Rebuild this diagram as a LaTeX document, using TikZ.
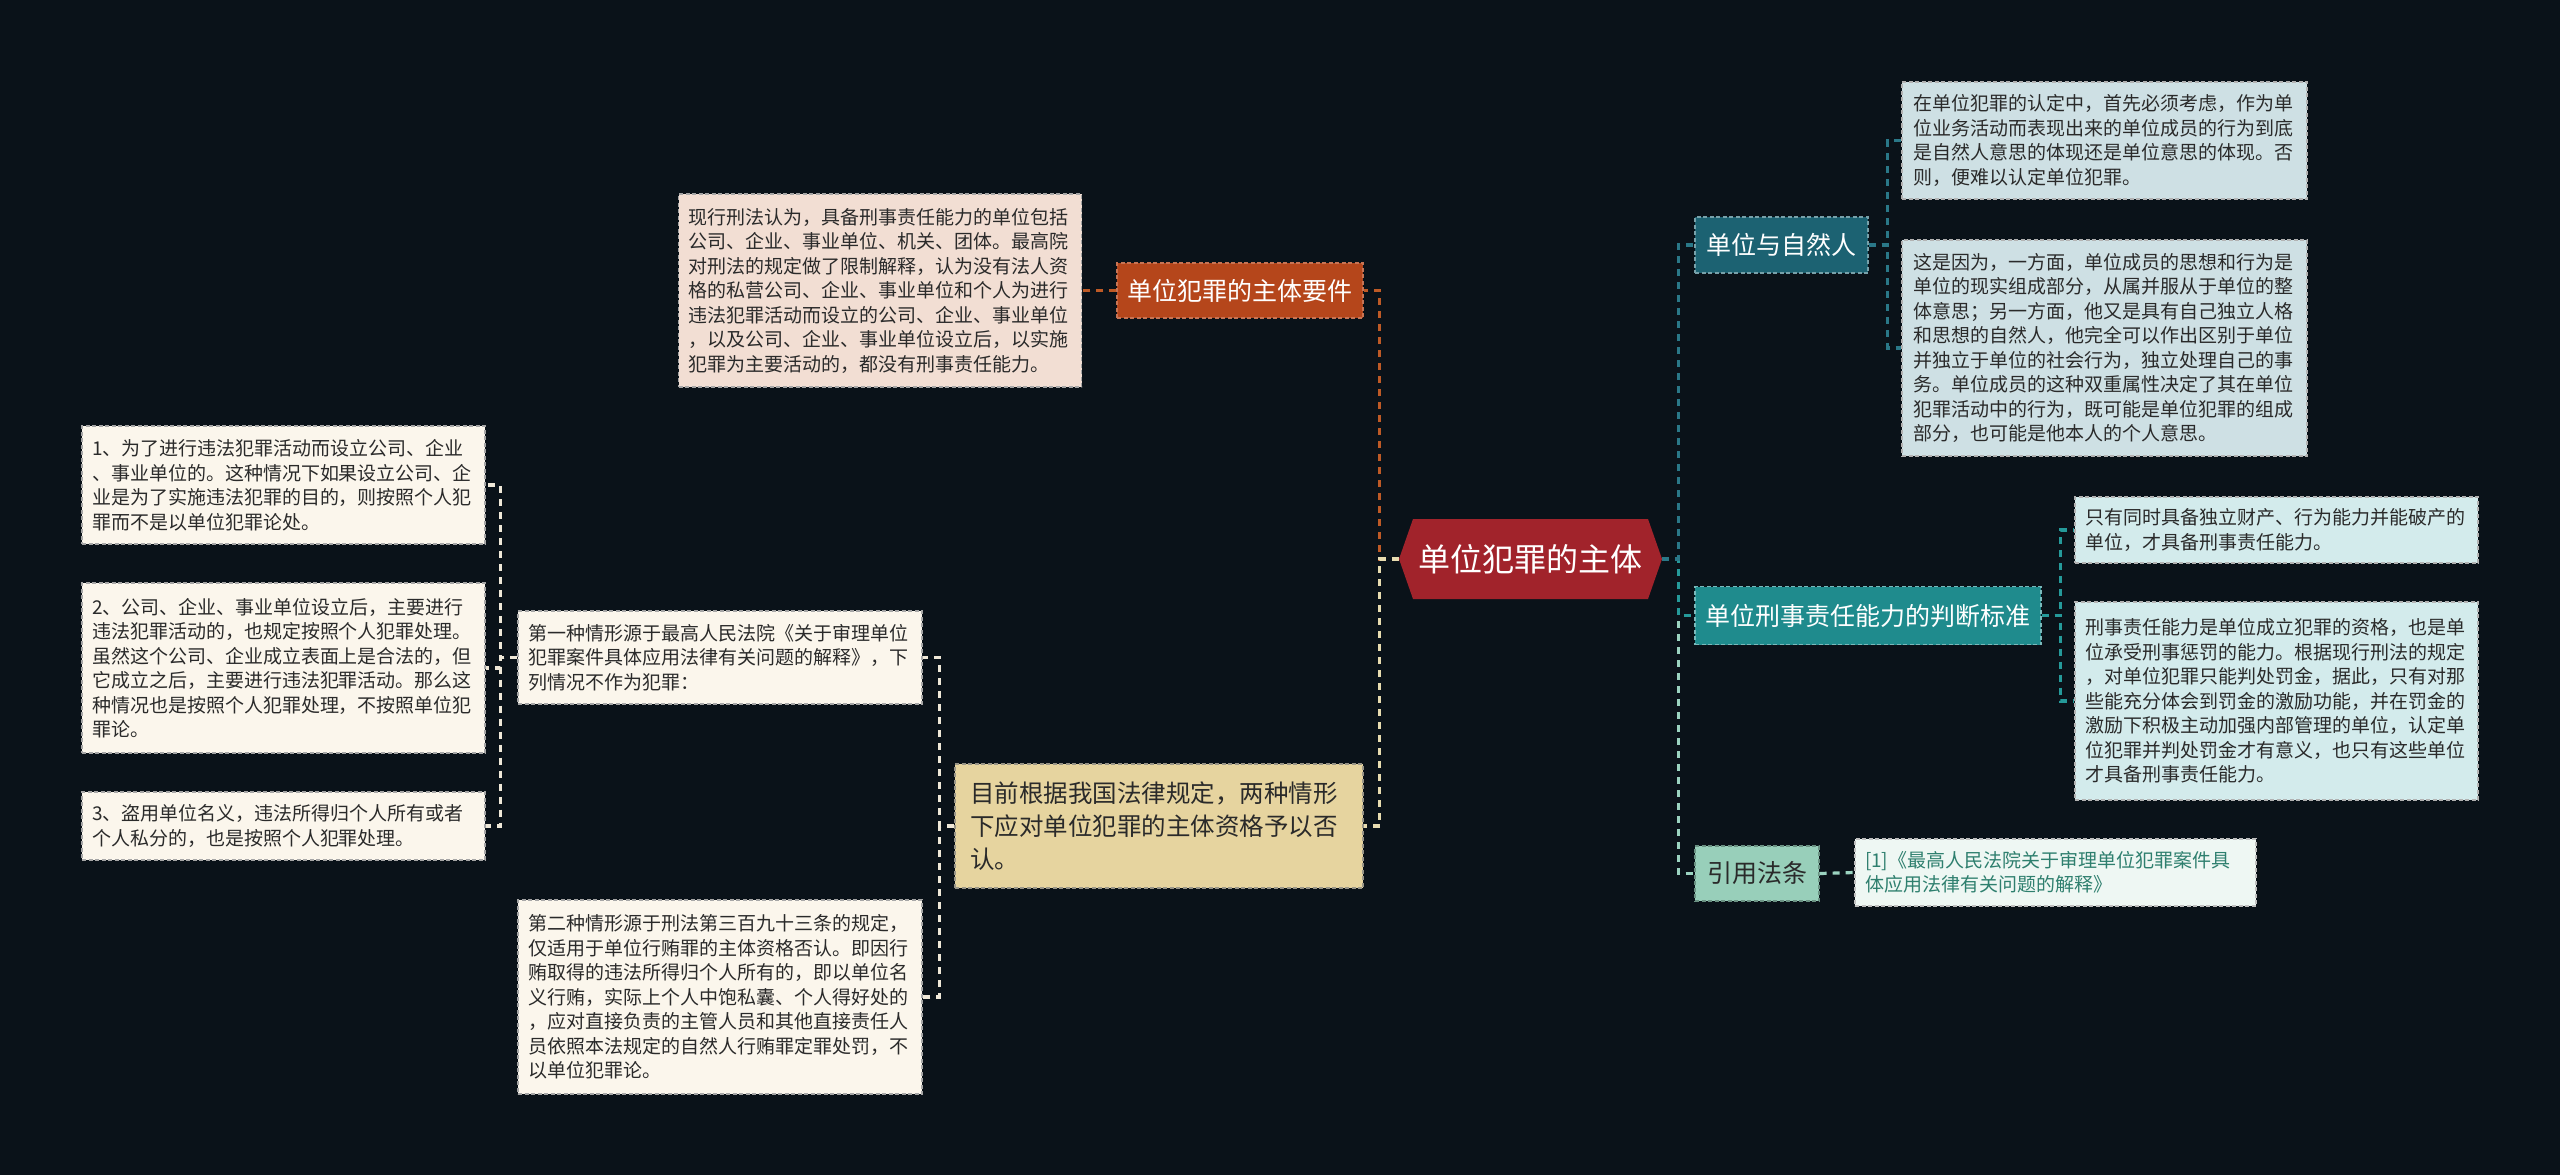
\documentclass[tikz,border=0pt]{standalone}
\usepackage{fontspec}
\newfontfamily\cjk{Noto Sans CJK SC}
\definecolor{bg}{HTML}{0A1219}
\definecolor{cred}{HTML}{A1232B}
\definecolor{corange}{HTML}{B5461B}
\definecolor{pinkbox}{HTML}{F2DED3}
\definecolor{tan}{HTML}{E6D49F}
\definecolor{cream}{HTML}{FBF6EC}
\definecolor{tealdark}{HTML}{1C6272}
\definecolor{teal}{HTML}{1F8B8D}
\definecolor{mint}{HTML}{98CFBA}
\definecolor{bluebox}{HTML}{CEE0E4}
\definecolor{cyanbox}{HTML}{D3EBEC}
\definecolor{mintbox}{HTML}{EEF7F3}
\definecolor{txt}{HTML}{2A2A2A}
\definecolor{reftxt}{HTML}{2E7F6E}
\definecolor{lnorange}{HTML}{BE5A26}
\definecolor{lncream}{HTML}{E8DCB0}
\definecolor{lnlight}{HTML}{EFE8D8}
\definecolor{lnteald}{HTML}{2A7888}
\definecolor{lnteal}{HTML}{259A9A}
\definecolor{lnmint}{HTML}{9BD3C0}
\begin{document}
\begin{tikzpicture}[x=1pt,y=-1pt,
  base/.style={rectangle, line width=1.3pt, dash pattern=on 4pt off 2.5pt},
  small/.style={base, inner xsep=10pt, inner ysep=4pt, align=left, text width=383pt, minimum width=403pt,
     font=\cjk\fontsize{19}{24.5}\selectfont, text=txt},
  creambox/.style={small, fill=cream, draw=gray!70},
  pinkb/.style={small, fill=pinkbox, draw=gray!70},
  blueb/.style={small, fill=bluebox, draw=gray!60},
  cyanb/.style={small, fill=cyanbox, draw=gray!60},
  label/.style={base, inner sep=0pt, align=center, minimum height=56pt,
     font=\cjk\fontsize{25}{28}\selectfont, text=white},
  conn/.style={line width=3.2pt, dash pattern=on 7pt off 6pt},
  cnode/.style={rectangle, inner sep=0pt, minimum width=263pt, minimum height=80pt, fill=bg,
     font=\cjk\fontsize{32}{36}\selectfont, text=white,
     path picture={\fill[cred] (path picture bounding box.west)
        -- ([xshift=14pt]path picture bounding box.north west)
        -- ([xshift=-14pt]path picture bounding box.north east)
        -- (path picture bounding box.east)
        -- ([xshift=-14pt]path picture bounding box.south east)
        -- ([xshift=14pt]path picture bounding box.south west) -- cycle;}}
]
\fill[bg] (0,0) rectangle (2560,1175);
\useasboundingbox (0,0) rectangle (2560,1175);

% centre
\node[cnode] (c) at (1530.5,559) {单位犯罪的主体};

% upper left branch
\node[label, fill=corange, draw=corange!75!white, minimum width=246pt, minimum height=55pt] (yj) at (1240,290.5) {单位犯罪的主体要件};
\node[pinkb, minimum height=193pt] (yjt) at (880,290.5) {现行刑法认为，具备刑事责任能力的单位包括\\公司、企业、事业单位、机关、团体。最高院\\对刑法的规定做了限制解释，认为没有法人资\\格的私营公司、企业、事业单位和个人为进行\\违法犯罪活动而设立的公司、企业、事业单位\\，以及公司、企业、事业单位设立后，以实施\\犯罪为主要活动的，都没有刑事责任能力。};

% lower left branch
\node[base, fill=tan, draw=gray!75!tan, inner xsep=15pt, inner ysep=4pt, align=left, text width=378pt, minimum width=408pt, minimum height=124pt,
  font=\cjk\fontsize{24.5}{33}\selectfont, text=txt] (mq) at (1159,826) {目前根据我国法律规定，两种情形\\下应对单位犯罪的主体资格予以否\\认。};
\node[creambox, minimum width=404pt, minimum height=93pt] (d1) at (720,657.5) {第一种情形源于最高人民法院《关于审理单位\\犯罪案件具体应用法律有关问题的解释》，下\\列情况不作为犯罪：};
\node[creambox, minimum width=404pt, minimum height=194pt] (d2) at (720,997) {第二种情形源于刑法第三百九十三条的规定，\\仅适用于单位行贿罪的主体资格否认。即因行\\贿取得的违法所得归个人所有的，即以单位名\\义行贿，实际上个人中饱私囊、个人得好处的\\，应对直接负责的主管人员和其他直接责任人\\员依照本法规定的自然人行贿罪定罪处罚，不\\以单位犯罪论。};
\node[creambox, minimum height=118pt] (l1) at (283.5,485) {1、为了进行违法犯罪活动而设立公司、企业\\、事业单位的。这种情况下如果设立公司、企\\业是为了实施违法犯罪的目的，则按照个人犯\\罪而不是以单位犯罪论处。};
\node[creambox, minimum height=170pt] (l2) at (283.5,668) {2、公司、企业、事业单位设立后，主要进行\\违法犯罪活动的，也规定按照个人犯罪处理。\\虽然这个公司、企业成立表面上是合法的，但\\它成立之后，主要进行违法犯罪活动。那么这\\种情况也是按照个人犯罪处理，不按照单位犯\\罪论。};
\node[creambox, minimum height=68pt] (l3) at (283.5,826) {3、盗用单位名义，违法所得归个人所有或者\\个人私分的，也是按照个人犯罪处理。};

% right branches
\node[label, fill=tealdark, draw=tealdark!60!white, minimum width=173pt] (r1) at (1781.5,245) {单位与自然人};
\node[blueb, minimum width=405pt, minimum height=117pt] (r1a) at (2104.5,140.5) {在单位犯罪的认定中，首先必须考虑，作为单\\位业务活动而表现出来的单位成员的行为到底\\是自然人意思的体现还是单位意思的体现。否\\则，便难以认定单位犯罪。};
\node[blueb, minimum width=405pt, minimum height=216pt] (r1b) at (2104.5,348) {这是因为，一方面，单位成员的思想和行为是\\单位的现实组成部分，从属并服从于单位的整\\体意思；另一方面，他又是具有自己独立人格\\和思想的自然人，他完全可以作出区别于单位\\并独立于单位的社会行为，独立处理自己的事\\务。单位成员的这种双重属性决定了其在单位\\犯罪活动中的行为，既可能是单位犯罪的组成\\部分，也可能是他本人的个人意思。};

\node[label, fill=teal, draw=teal!60!white, minimum width=346pt, minimum height=58pt] (r2) at (1868,615.5) {单位刑事责任能力的判断标准};
\node[cyanb, minimum height=66pt] (r2a) at (2276.5,530) {只有同时具备独立财产、行为能力并能破产的\\单位，才具备刑事责任能力。};
\node[cyanb, minimum height=198pt] (r2b) at (2276.5,701) {刑事责任能力是单位成立犯罪的资格，也是单\\位承受刑事惩罚的能力。根据现行刑法的规定\\，对单位犯罪只能判处罚金，据此，只有对那\\些能充分体会到罚金的激励功能，并在罚金的\\激励下积极主动加强内部管理的单位，认定单\\位犯罪并判处罚金才有意义，也只有这些单位\\才具备刑事责任能力。};

\node[label, fill=mint, draw=mint!70!black, minimum width=124pt, minimum height=55pt, text=txt] (r3) at (1757,873.5) {引用法条};
\node[small, fill=mintbox, draw=gray!50, text=reftxt, text width=381pt, minimum width=401pt, minimum height=67pt] (r3a) at (2055.5,872.5) {[1]《最高人民法院关于审理单位犯罪案件具\\体应用法律有关问题的解释》};

% connectors, left
\draw[conn, lnorange] (c.west) -- ++(-19,0) |- (yj.east);
\draw[conn, lncream] (c.west) -- ++(-19,0) |- (mq.east);
\draw[conn, lnorange] (yj.west) -- (yjt.east);
\draw[conn, lnlight] (mq.west) -- ++(-15,0) |- (d1.east);
\draw[conn, lnlight] (mq.west) -- ++(-15,0) |- (d2.east);
\draw[conn, lnlight] (d1.west) -- ++(-17,0) |- (l1.east);
\draw[conn, lnlight] (d1.west) -- ++(-17,0) |- (l2.east);
\draw[conn, lnlight] (d1.west) -- ++(-17,0) |- (l3.east);

% connectors, right
\draw[conn, lnmint] (c.east) -- ++(16,0) |- (r3.west);
\draw[conn, lnteal] (c.east) -- ++(16,0) |- (r2.west);
\draw[conn, lnteald] (c.east) -- ++(16,0) |- (r1.west);
\draw[conn, lnteald] (r1.east) -- ++(19,0) |- (r1a.west);
\draw[conn, lnteald] (r1.east) -- ++(19,0) |- (r1b.west);
\draw[conn, lnteal] (r2.east) -- ++(19,0) |- (r2a.west);
\draw[conn, lnteal] (r2.east) -- ++(19,0) |- (r2b.west);
\draw[conn, lnmint] (r3.east) -- (r3a.west);
\end{tikzpicture}
\end{document}
